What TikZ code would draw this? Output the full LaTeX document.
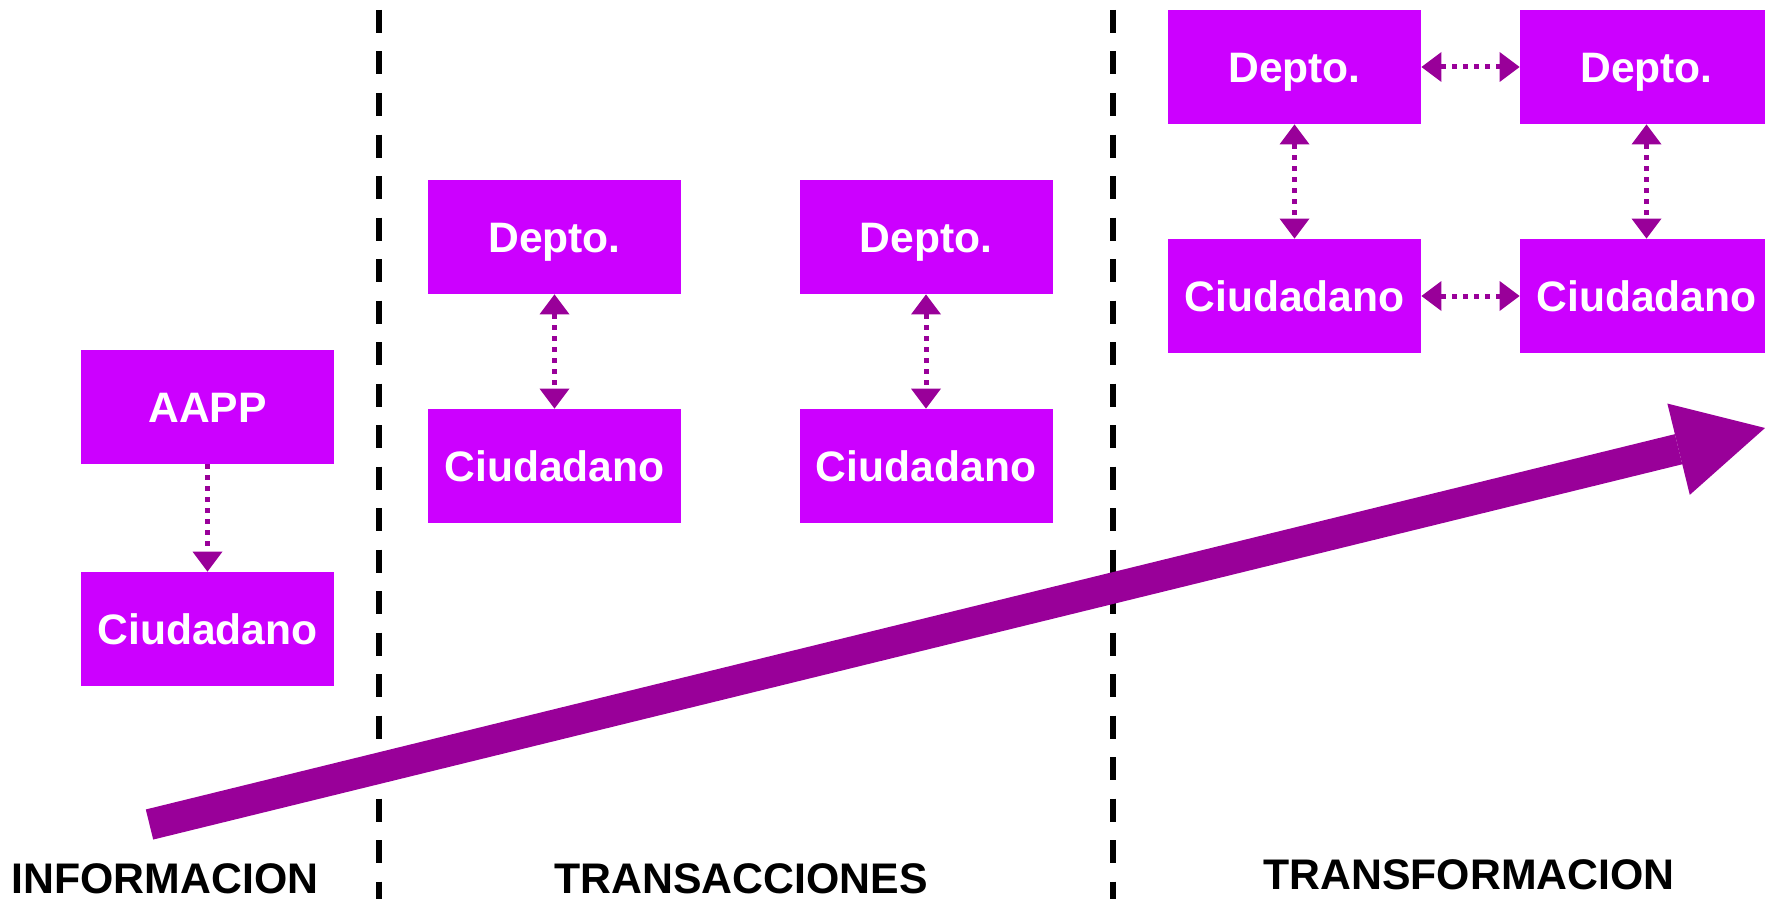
\documentclass[tikz,border=0pt]{standalone}
\usepackage{fontspec}
\setmainfont{Liberation Sans}
\usetikzlibrary{arrows.meta}
\definecolor{violeta}{HTML}{CC00FF}
\definecolor{morado}{HTML}{990099}

\begin{document}
\begin{tikzpicture}[x=0.5pt, y=-0.5pt,
    caja/.style ={rectangle, fill=violeta, text=white, inner sep=0pt, minimum width=126.5pt, minimum height=57pt,
                  font=\fontsize{21.3pt}{25pt}\selectfont\bfseries, text height=15.25pt, text depth=0pt},
    enlace/.style ={morado, line width=2.5pt, dash pattern=on 2.5pt off 3pt,
                    >={Triangle[width=15pt,length=10pt,line width=0pt]}},
    flecha/.style ={morado, line width=15.5pt, >={Triangle[width=47pt,length=44.5pt,line width=0pt]}},
    frontera/.style ={black, line width=3pt, dash pattern=on 11.5pt off 9.25pt, dash phase=15.75pt},
    etapa/.style ={anchor=base, font=\fontsize{21.4pt}{25pt}\selectfont\bfseries}]
   \useasboundingbox (0,0) rectangle (1765,899);
   % separadores
   \coordinate (s1a) at (379,0);
   \coordinate (s1b) at (379,899);
   \coordinate (s2a) at (1113,0);
   \coordinate (s2b) at (1113,899);
   \draw[frontera] (s1a) -- (s1b);
   \draw[frontera] (s2a) -- (s2b);
   % avance
   \coordinate (inicio) at (149.5,824.5);
   \coordinate (fin) at (1765,428);
   \draw[flecha, ->] (inicio) -- (fin);
   % informacion
   \node[caja] (aapp) at (207.5,407) {AAPP};
   \node[caja] (ciu1) at (207.5,629) {Ciudadano};
   \draw[enlace, ->] (aapp) -- (ciu1);
   % transacciones
   \node[caja] (dep2) at (554.5,237) {Depto.};
   \node[caja] (ciu2) at (554.5,466) {Ciudadano};
   \node[caja] (dep3) at (926,237) {Depto.};
   \node[caja] (ciu3) at (926,466) {Ciudadano};
   \draw[enlace, <->] (dep2) -- (ciu2);
   \draw[enlace, <->] (dep3) -- (ciu3);
   % transformacion
   \node[caja] (dep4) at (1294.5,67) {Depto.};
   \node[caja] (ciu4) at (1294.5,296) {Ciudadano};
   \node[caja] (dep5) at (1646.5,67) {Depto.};
   \node[caja] (ciu5) at (1646.5,296) {Ciudadano};
   \draw[enlace, <->] (dep4) -- (ciu4);
   \draw[enlace, <->] (dep5) -- (ciu5);
   \draw[enlace, <->] (dep4) -- (dep5);
   \draw[enlace, <->] (ciu4) -- (ciu5);
   % etapas
   \node[etapa] (info) at (165,893) {INFORMACION};
   \node[etapa] (trans) at (741,893) {TRANSACCIONES};
   \node[etapa] (transf) at (1469,889) {TRANSFORMACION};
\end{tikzpicture}
\end{document}
